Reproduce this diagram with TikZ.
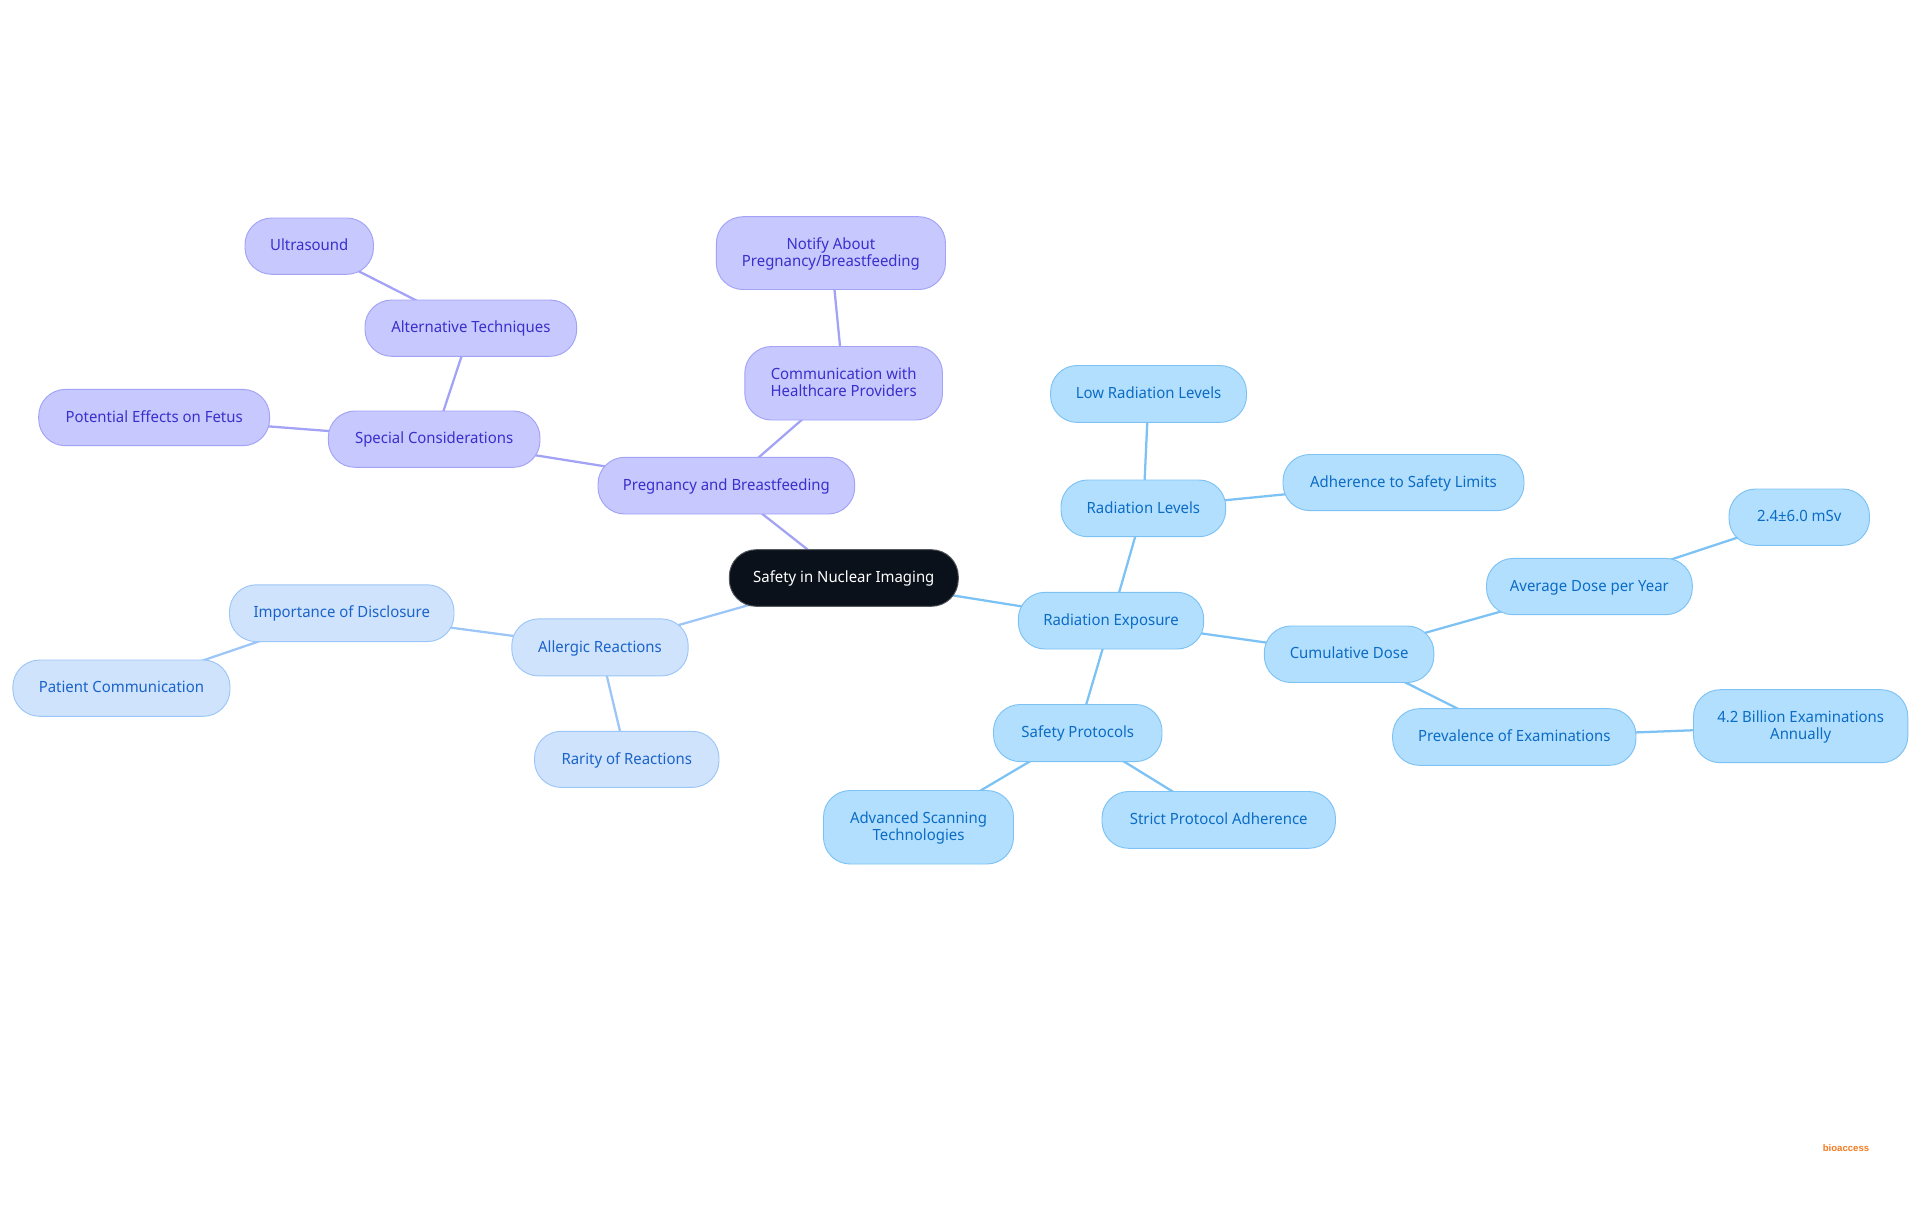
\documentclass[tikz,border=0pt]{standalone}
\usepackage{fontspec}
\setmainfont[FakeStretch=0.965]{Noto Sans}
\newfontfamily\logofont{Liberation Sans}
\usetikzlibrary{backgrounds}
\definecolor{rootfill}{HTML}{0B111A}
\definecolor{bfill}{HTML}{B3DFFF}
\definecolor{bline}{HTML}{7CC2F4}
\definecolor{btext}{HTML}{0B6CC4}
\definecolor{pfill}{HTML}{C7C8FE}
\definecolor{pline}{HTML}{A2A2F6}
\definecolor{ptext}{HTML}{3A2FCB}
\definecolor{lfill}{HTML}{CFE3FD}
\definecolor{lline}{HTML}{9CC6F7}
\definecolor{ltext}{HTML}{1A63C9}
\definecolor{logo}{HTML}{F47A20}
\tikzset{
  x=0.75pt,y=-0.75pt,
  box/.style={rectangle,rounded corners=20pt,line width=0.7pt,inner sep=0pt,align=center,font=\fontsize{11.6pt}{12.8pt}\selectfont},
  rootbox/.style={box,fill=rootfill,draw=rootfill!70!white,text=white},
  bluebox/.style={box,fill=bfill,draw=bline,text=btext},
  purplebox/.style={box,fill=pfill,draw=pline,text=ptext},
  lightbox/.style={box,fill=lfill,draw=lline,text=ltext},
  blueedge/.style={draw=bline,line width=1.7pt},
  purpleedge/.style={draw=pline,line width=1.7pt},
  lightedge/.style={draw=lline,line width=1.7pt},
}
\newcommand{\mapbox}[7]{%
  \node[#1,minimum width={(#5-#3)*0.75pt},minimum height={(#6-#4)*0.75pt}] (#2) at ({(#3+#5)/2},{(#4+#6)/2}) {\rule{0pt}{9.9pt}#7\rule[-2.9pt]{0pt}{2.9pt}};}
\begin{document}
\begin{tikzpicture}
\useasboundingbox (0,0) rectangle (1920,1215);
\mapbox{rootbox}{root}{729.3}{549.7}{958.3}{606.3}{Safety in Nuclear Imaging}
\mapbox{bluebox}{exposure}{1018.3}{592.3}{1203.7}{649}{Radiation Exposure}
\mapbox{bluebox}{levels}{1061}{480}{1225.7}{536.7}{Radiation Levels}
\mapbox{bluebox}{low}{1050.6}{365.5}{1246.5}{422.4}{Low Radiation Levels}
\mapbox{bluebox}{adherence}{1283}{454.5}{1524}{510.6}{Adherence to Safety Limits}
\mapbox{bluebox}{cumulative}{1264.3}{626}{1433.9}{682.5}{Cumulative Dose}
\mapbox{bluebox}{average}{1486.5}{558.4}{1692.3}{614.7}{Average Dose per Year}
\mapbox{bluebox}{dose}{1729}{489}{1869.5}{545.3}{2.4±6.0 mSv}
\mapbox{bluebox}{prevalence}{1392.6}{708.7}{1636}{765.3}{Prevalence of Examinations}
\mapbox{bluebox}{billion}{1693.5}{689.7}{1907.8}{762.7}{4.2 Billion Examinations\\Annually}
\mapbox{bluebox}{protocols}{993.5}{704.5}{1162}{761.6}{Safety Protocols}
\mapbox{bluebox}{advanced}{823.5}{790.5}{1013.5}{864}{Advanced Scanning\\Technologies}
\mapbox{bluebox}{strict}{1102}{791.5}{1335.5}{848.3}{Strict Protocol Adherence}
\mapbox{lightbox}{allergic}{511.8}{618.9}{688.2}{675.9}{Allergic Reactions}
\mapbox{lightbox}{disclosure}{229.5}{584.8}{454}{641.6}{Importance of Disclosure}
\mapbox{lightbox}{patient}{12.9}{660}{230}{716.3}{Patient Communication}
\mapbox{lightbox}{rarity}{534.5}{731.3}{719}{787.4}{Rarity of Reactions}
\mapbox{purplebox}{pregnancy}{598}{457.3}{854.7}{514}{Pregnancy and Breastfeeding}
\mapbox{purplebox}{special}{328.3}{411}{540}{467.3}{Special Considerations}
\mapbox{purplebox}{fetus}{38.7}{389.4}{269.6}{445.7}{Potential Effects on Fetus}
\mapbox{purplebox}{alternative}{365}{300}{576.7}{356.3}{Alternative Techniques}
\mapbox{purplebox}{ultrasound}{245}{218}{373.5}{274.3}{Ultrasound}
\mapbox{purplebox}{communication}{744.8}{346.5}{942.5}{420}{Communication with\\Healthcare Providers}
\mapbox{purplebox}{notify}{716.3}{216.7}{945.5}{289.5}{Notify About\\Pregnancy/Breastfeeding}
\node[text=logo,inner sep=0pt,font=\logofont\bfseries\fontsize{7.2pt}{8pt}\selectfont] (logotext) at (1846,1148) {bioaccess};
\begin{pgfonlayer}{background}
\draw[blueedge] (root.center) -- (exposure.center);
\draw[blueedge] (exposure.center) -- (levels.center);
\draw[blueedge] (levels.center) -- (low.center);
\draw[blueedge] (levels.center) -- (adherence.center);
\draw[blueedge] (exposure.center) -- (cumulative.center);
\draw[blueedge] (cumulative.center) -- (average.center);
\draw[blueedge] (average.center) -- (dose.center);
\draw[blueedge] (cumulative.center) -- (prevalence.center);
\draw[blueedge] (prevalence.center) -- (billion.center);
\draw[blueedge] (exposure.center) -- (protocols.center);
\draw[blueedge] (protocols.center) -- (advanced.center);
\draw[blueedge] (protocols.center) -- (strict.center);
\draw[lightedge] (root.center) -- (allergic.center);
\draw[lightedge] (allergic.center) -- (disclosure.center);
\draw[lightedge] (disclosure.center) -- (patient.center);
\draw[lightedge] (allergic.center) -- (rarity.center);
\draw[purpleedge] (root.center) -- (pregnancy.center);
\draw[purpleedge] (pregnancy.center) -- (special.center);
\draw[purpleedge] (special.center) -- (fetus.center);
\draw[purpleedge] (special.center) -- (alternative.center);
\draw[purpleedge] (alternative.center) -- (ultrasound.center);
\draw[purpleedge] (pregnancy.center) -- (communication.center);
\draw[purpleedge] (communication.center) -- (notify.center);
\end{pgfonlayer}
\end{tikzpicture}
\end{document}
